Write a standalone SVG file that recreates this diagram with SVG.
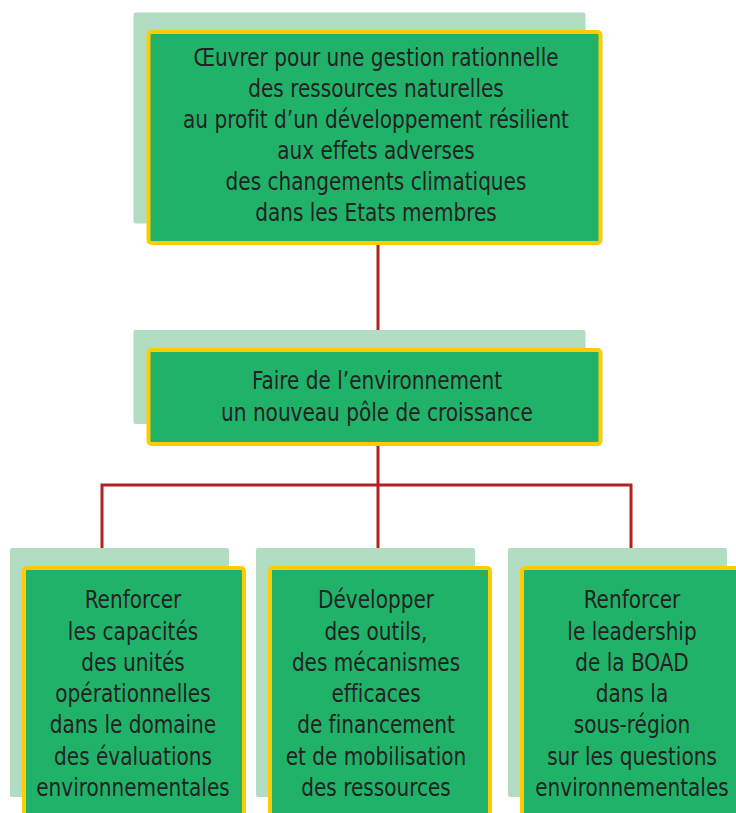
<svg xmlns="http://www.w3.org/2000/svg" width="736" height="813" viewBox="0 0 736 813">
<style>
.sh{fill:#B3DDC3}
.bx{fill:#21B26A;stroke:#FFCC00;stroke-width:4}
.t{font-family:"DejaVu Sans Condensed","Liberation Sans Narrow","Liberation Sans",sans-serif;font-size:24px;fill:#222;text-anchor:middle;font-variant-ligatures:none}
.c{fill:none;stroke:#B22222;stroke-width:3}
</style>
<rect width="736" height="813" fill="#fff"/>
<g id="connectors">
<path class="c" d="M378 245V349"/>
<path class="c" d="M378 446V548M102 548V485H631V548"/>
</g>
<g id="n1">
<rect class="sh" x="133.5" y="12.5" width="452" height="211" rx="2"/>
<rect class="bx" x="148.5" y="32" width="452" height="211" rx="3"/>
<text class="t" transform="translate(376 0) scale(0.93 1)"><tspan x="0" y="66">Œuvrer pour une gestion rationnelle</tspan><tspan x="0" y="97">des ressources naturelles</tspan><tspan x="0" y="128">au profit d’un développement résilient</tspan><tspan x="0" y="159">aux effets adverses</tspan><tspan x="0" y="190">des changements climatiques</tspan><tspan x="0" y="221">dans les Etats membres</tspan></text>
</g>
<g id="n2">
<rect class="sh" x="133.5" y="330" width="452" height="94" rx="2"/>
<rect class="bx" x="148.5" y="350" width="452" height="94" rx="3"/>
<text class="t" transform="translate(377 0) scale(0.93 1)"><tspan x="0" y="389">Faire de l’environnement</tspan><tspan x="0" y="421">un nouveau pôle de croissance</tspan></text>
</g>
<g id="n3">
<rect class="sh" x="10" y="548" width="219" height="249" rx="2"/>
<rect class="bx" x="24" y="568" width="220" height="260" rx="3"/>
<text class="t" transform="translate(133 0) scale(0.93 1)"><tspan x="0" y="608">Renforcer</tspan><tspan x="0" y="640">les capacités</tspan><tspan x="0" y="671">des unités</tspan><tspan x="0" y="702">opérationnelles</tspan><tspan x="0" y="733">dans le domaine</tspan><tspan x="0" y="765">des évaluations</tspan><tspan x="0" y="796">environnementales</tspan></text>
</g>
<g id="n4">
<rect class="sh" x="256" y="548" width="219" height="249" rx="2"/>
<rect class="bx" x="270" y="568" width="220" height="260" rx="3"/>
<text class="t" transform="translate(376 0) scale(0.93 1)"><tspan x="0" y="608">Développer</tspan><tspan x="0" y="640">des outils,</tspan><tspan x="0" y="671">des mécanismes</tspan><tspan x="0" y="702">efficaces</tspan><tspan x="0" y="733">de financement</tspan><tspan x="0" y="765">et de mobilisation</tspan><tspan x="0" y="796">des ressources</tspan></text>
</g>
<g id="n5">
<rect class="sh" x="508" y="548" width="219" height="249" rx="2"/>
<rect class="bx" x="522" y="568" width="220" height="260" rx="3"/>
<text class="t" transform="translate(632 0) scale(0.93 1)"><tspan x="0" y="608">Renforcer</tspan><tspan x="0" y="640">le leadership</tspan><tspan x="0" y="671">de la BOAD</tspan><tspan x="0" y="702">dans la</tspan><tspan x="0" y="733">sous-région</tspan><tspan x="0" y="765">sur les questions</tspan><tspan x="0" y="796">environnementales</tspan></text>
</g>
</svg>
